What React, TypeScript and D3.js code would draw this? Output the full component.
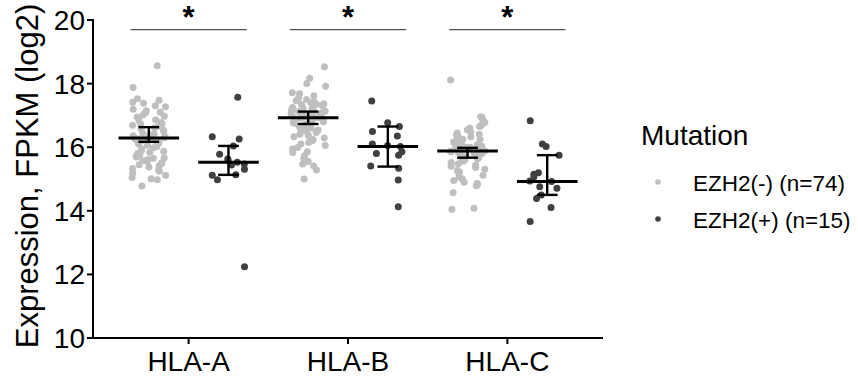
import React from "react";
import * as d3 from "d3";

const categories = ["HLA-A", "HLA-B", "HLA-C"];
const groupLabels = ["EZH2(-) (n=74)", "EZH2(+) (n=15)"];
const groupColors = ["#bfbfbf", "#404040"];
const yTicks = [10, 12, 14, 16, 18, 20];
const sigLabels = ["*", "*", "*"];
const sigLevel = 19.7;

// EZH2(-) expression values (n=74 per gene)
const negA = [18.56, 17.88, 17.52, 17.48, 17.41, 17.38, 17.30, 17.27, 17.19, 17.15, 17.10, 17.08, 17.02, 16.97, 16.93, 16.86, 16.84, 16.78, 16.74, 16.69, 16.66, 16.61, 16.57, 16.53, 16.49, 16.44, 16.41, 16.36, 16.33, 16.31, 16.30, 16.29, 16.28, 16.26, 16.25, 16.23, 16.21, 16.19, 16.17, 16.14, 16.11, 16.06, 16.02, 15.98, 15.95, 15.91, 15.87, 15.84, 15.80, 15.77, 15.72, 15.69, 15.65, 15.61, 15.58, 15.55, 15.52, 15.49, 15.45, 15.42, 15.38, 15.33, 15.29, 15.24, 15.18, 15.12, 15.05, 15.01, 14.98, 14.78, 16.72, 16.39, 15.67, 16.95];
const negB = [18.53, 18.17, 18.00, 17.92, 17.71, 17.68, 17.62, 17.55, 17.50, 17.46, 17.43, 17.40, 17.37, 17.34, 17.31, 17.28, 17.25, 17.22, 17.19, 17.17, 17.15, 17.13, 17.12, 17.10, 17.08, 17.06, 17.04, 17.02, 17.00, 16.98, 16.96, 16.94, 16.93, 16.93, 16.91, 16.89, 16.87, 16.85, 16.83, 16.80, 16.78, 16.75, 16.73, 16.70, 16.66, 16.62, 16.58, 16.54, 16.50, 16.46, 16.41, 16.37, 16.33, 16.29, 16.24, 16.20, 16.15, 16.10, 16.05, 15.99, 15.94, 15.86, 15.83, 15.74, 15.65, 15.55, 15.47, 15.41, 15.28, 15.00, 17.05, 16.90, 16.60, 17.35];
const negC = [18.11, 16.96, 16.94, 16.86, 16.78, 16.70, 16.60, 16.55, 16.48, 16.41, 16.38, 16.33, 16.28, 16.24, 16.20, 16.16, 16.12, 16.09, 16.06, 16.03, 16.00, 15.98, 15.97, 15.95, 15.93, 15.92, 15.90, 15.89, 15.88, 15.87, 15.86, 15.84, 15.82, 15.80, 15.78, 15.76, 15.74, 15.72, 15.70, 15.68, 15.67, 15.64, 15.60, 15.56, 15.52, 15.48, 15.44, 15.40, 15.36, 15.31, 15.27, 15.22, 15.17, 15.12, 15.06, 15.01, 14.95, 14.90, 14.86, 14.84, 14.81, 14.79, 14.57, 14.08, 14.05, 16.45, 16.15, 16.05, 15.99, 16.25, 16.65, 16.10, 15.94, 16.35];

// EZH2(+) expression values (n=15 per gene)
const posA = [17.57, 16.33, 16.26, 16.04, 15.78, 15.63, 15.58, 15.53, 15.47, 15.44, 15.31, 15.13, 15.12, 14.98, 12.24];
const posB = [17.45, 16.77, 16.65, 16.49, 16.35, 16.10, 16.05, 16.02, 15.86, 15.80, 15.75, 15.41, 15.34, 14.97, 14.13];
const posC = [16.83, 16.10, 16.02, 15.75, 15.20, 15.15, 15.07, 14.94, 14.92, 14.76, 14.71, 14.50, 14.39, 14.10, 13.66];

// summary: centre line and interval
const negMid = [16.29, 16.93, 15.88];
const negLow = [16.17, 16.73, 15.67];
const negHigh = [16.63, 17.12, 15.98];
const posMid = [15.53, 16.02, 14.92];
const posLow = [15.13, 15.39, 14.5];
const posHigh = [16.04, 16.65, 15.75];

const seriesValues = [
  [negA, negB, negC],
  [posA, posB, posC],
];
const seriesMid = [negMid, posMid];
const seriesLow = [negLow, posLow];
const seriesHigh = [negHigh, posHigh];

const W = 858;
const H = 377;
const left = 93;
const right = 603;
const top = 20;
const bottom = 338;
const FONT = "Arial, 'Liberation Sans', Helvetica, sans-serif";

export default function App() {
  const y = d3.scaleLinear().domain([10, 20]).range([bottom, top]);
  const x = d3.scalePoint<string>().domain(categories).range([left, right]).padding(0.6);
  const step = x.step();
  const dodge = step * 0.25;
  const jitterW = step * 0.11;

  const rng = d3.randomLcg(0.4242);
  const jit = d3.randomUniform.source(rng)(-1, 1);

  const points: { cx: number; cy: number; g: number }[] = [];
  categories.forEach((c, ci) => {
    [0, 1].forEach((g) => {
      const cx0 = (x(c) as number) + (g === 0 ? -dodge : dodge);
      seriesValues[g][ci].forEach((v) => {
        points.push({ cx: cx0 + jit() * jitterW, cy: y(v), g });
      });
    });
  });

  return (
    <svg
      width={W}
      height={H}
      style={{ position: "absolute", left: 0, top: 0, background: "#fff" }}
      fontFamily={FONT}
    >
      {/* points */}
      {points.map((p, i) => (
        <circle key={i} cx={p.cx} cy={p.cy} r={3.5} fill={groupColors[p.g]} />
      ))}

      {/* summaries */}
      {categories.map((c, ci) =>
        [0, 1].map((g) => {
          const cx = (x(c) as number) + (g === 0 ? -dodge : dodge);
          const hw = step * 0.19;
          const cap = step * 0.065;
          return (
            <g key={c + g} stroke="#000">
              <line x1={cx} x2={cx} y1={y(seriesLow[g][ci])} y2={y(seriesHigh[g][ci])} strokeWidth={2.4} />
              <line x1={cx - cap} x2={cx + cap} y1={y(seriesLow[g][ci])} y2={y(seriesLow[g][ci])} strokeWidth={2.4} />
              <line x1={cx - cap} x2={cx + cap} y1={y(seriesHigh[g][ci])} y2={y(seriesHigh[g][ci])} strokeWidth={2.4} />
              <line x1={cx - hw} x2={cx + hw} y1={y(seriesMid[g][ci])} y2={y(seriesMid[g][ci])} strokeWidth={3} />
            </g>
          );
        })
      )}

      {/* significance */}
      {categories.map((c, ci) => {
        const cx = x(c) as number;
        const half = step * 0.365;
        return (
          <g key={"sig" + c}>
            <line x1={cx - half} x2={cx + half} y1={y(sigLevel)} y2={y(sigLevel)} stroke="#555" strokeWidth={1.3} />
            <text x={cx} y={y(sigLevel) - 2} textAnchor="middle" fontSize={31} fontWeight="bold" fill="#000">
              {sigLabels[ci]}
            </text>
          </g>
        );
      })}

      {/* y axis */}
      <line x1={left} x2={left} y1={top - 1} y2={bottom + 1} stroke="#000" strokeWidth={2} />
      {yTicks.map((t) => (
        <g key={"yt" + t}>
          <line x1={left - 6} x2={left} y1={y(t)} y2={y(t)} stroke="#000" strokeWidth={2} />
          <text x={left - 8} y={y(t) + 10} textAnchor="end" fontSize={28} fill="#000">
            {t}
          </text>
        </g>
      ))}
      <text
        transform={`translate(${38},${176}) rotate(-90)`}
        textAnchor="middle"
        fontSize={31}
        fill="#000"
      >
        Expression, FPKM (log2)
      </text>

      {/* x axis */}
      <line x1={left - 1} x2={right} y1={bottom} y2={bottom} stroke="#000" strokeWidth={2} />
      {categories.map((c) => (
        <g key={"xt" + c}>
          <line x1={x(c) as number} x2={x(c) as number} y1={bottom} y2={bottom + 6} stroke="#000" strokeWidth={2} />
          <text x={x(c) as number} y={371} textAnchor="middle" fontSize={28} fill="#000">
            {c}
          </text>
        </g>
      ))}

      {/* legend */}
      <text x={641} y={145} fontSize={28} fill="#000">
        Mutation
      </text>
      {groupLabels.map((lab, i) => (
        <g key={lab}>
          <circle cx={658} cy={182 + i * 37} r={2.8} fill={groupColors[i]} />
          <text x={693} y={191 + i * 37} fontSize={22.5} fill="#000">
            {lab}
          </text>
        </g>
      ))}
    </svg>
  );
}
